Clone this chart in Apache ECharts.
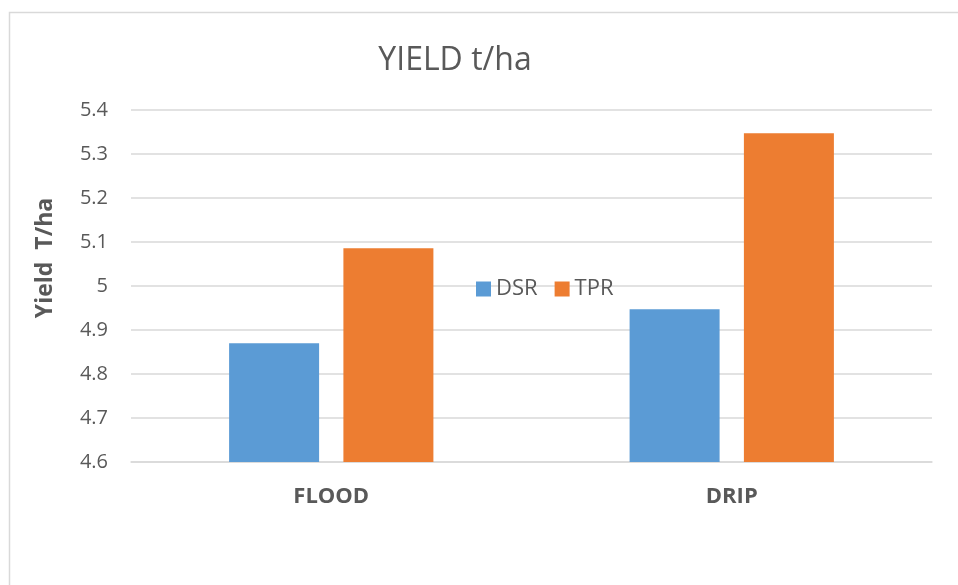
<!DOCTYPE html>
<html><head><meta charset="utf-8">
<script src="https://cdn.jsdelivr.net/npm/echarts@6/dist/echarts.min.js"></script>
<style>html,body{margin:0;padding:0;background:#fff}#c{width:958px;height:585px}</style>
</head><body><div id="c"></div>
<script>
const categories = ['FLOOD', 'DRIP'];
const dsrValues = [4.87, 4.947];
const tprValues = [5.086, 5.347];
const seriesNames = ['DSR', 'TPR'];
const chartTitle = 'YIELD t/ha';
const yAxisTitle = 'Yield  T/ha';

const chart = echarts.init(document.getElementById('c'));
const font = '"Open Sans", "Noto Sans", sans-serif';
chart.setOption({
  animation: false,
  backgroundColor: '#fff',
  title: {
    text: chartTitle, left: 450, top: 40, textAlign: 'center',
    textStyle: { color: '#595959', fontSize: 32, fontWeight: 'normal', fontFamily: font }
  },
  graphic: [
    { type: 'rect', shape: { x: 9.5, y: 12.5, width: 1000, height: 1000 }, style: { fill: 'none', stroke: '#d9d9d9', lineWidth: 1.5 }, silent: true },
    { type: 'text', x: 45, y: 258, rotation: Math.PI / 2,
      style: { text: yAxisTitle, fill: '#595959', font: 'bold 23px ' + font, align: 'center', verticalAlign: 'middle' } }
  ],
  legend: {
    data: seriesNames, left: 471, top: 273, icon: 'rect', itemWidth: 15, itemHeight: 15, itemGap: 17,
    textStyle: { color: '#595959', fontSize: 22, fontFamily: font }
  },
  grid: { left: 131, right: 26, top: 110, bottom: 123 },
  xAxis: {
    type: 'category', data: categories,
    axisLine: { lineStyle: { color: '#d9d9d9', width: 1.5 } },
    axisTick: { show: false },
    axisLabel: { color: '#595959', fontSize: 22, fontWeight: 'bold', fontFamily: font, margin: 24 }
  },
  yAxis: {
    type: 'value', min: 4.6, max: 5.4, interval: 0.1,
    axisLine: { show: false }, axisTick: { show: false },
    splitLine: { lineStyle: { color: '#d9d9d9', width: 1.5 } },
    axisLabel: { color: '#595959', fontSize: 20, fontFamily: font, margin: 23,
      formatter: v => String(parseFloat(v.toFixed(1))) }
  },
  series: [
    { name: seriesNames[0], type: 'bar', data: dsrValues, barWidth: 90, barGap: '27%', itemStyle: { color: '#5B9BD5' } },
    { name: seriesNames[1], type: 'bar', data: tprValues, barWidth: 90, barGap: '27%', itemStyle: { color: '#ED7D31' } }
  ]
});
</script></body></html>
